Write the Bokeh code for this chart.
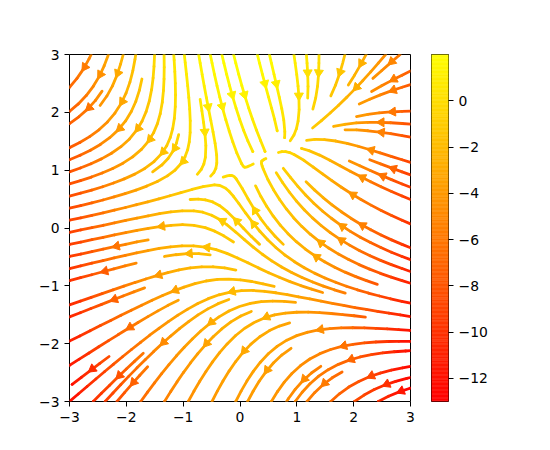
import math
import numpy as np
from bokeh.plotting import figure
from bokeh.models import Range1d, FixedTicker
from bokeh.layouts import row
from bokeh.embed import file_html
from bokeh.resources import INLINE

# ---------------- data ----------------
# vector field on a 100x100 grid over [-3, 3] x [-3, 3]
# U = u_const + u_x2 * X^2 + u_y * Y ;  V = v_const + v_x * X + v_y2 * Y^2
half_width = 3
grid_n = 100
u_coef = [-1.0, -1.0, 1.0]   # const, X^2, Y
v_coef = [1.0, 1.0, -1.0]    # const, X, Y^2
x_ticks = [-3, -2, -1, 0, 1, 2, 3]
y_ticks = [-3, -2, -1, 0, 1, 2, 3]
cbar_ticks = [-12, -10, -8, -6, -4, -2, 0]

Y, X = np.mgrid[-half_width:half_width:grid_n * 1j, -half_width:half_width:grid_n * 1j]
U = u_coef[0] + u_coef[1] * X ** 2 + u_coef[2] * Y
V = v_coef[0] + v_coef[1] * X + v_coef[2] * Y ** 2
C = U
gx = X[0]
gy = Y[:, 0]

# autumn colormap
palette = ["#ff%02x00" % i for i in range(256)]
lo, hi = float(C.min()), float(C.max())

# ---------------- streamline integration (classic matplotlib scheme) ----------------
class TerminateTrajectory(Exception):
    pass


class InvalidIndexError(Exception):
    pass


nx = len(gx)
ny = len(gy)
dx = gx[1] - gx[0]
dy = gy[1] - gy[0]
mnx = mny = 30
x_g2m = (mnx - 1) / nx
y_g2m = (mny - 1) / ny
x_m2g = 1.0 / x_g2m
y_m2g = 1.0 / y_g2m
x_d2g = 1.0 / dx
y_d2g = 1.0 / dy
mask = np.zeros((mny, mnx))
state = {"cur": None, "traj": []}
minlength = 0.1
maxlength = 4.0 / 2.0   # both directions


def within(xi, yi):
    return xi >= 0 and xi <= nx - 1 and yi >= 0 and yi <= ny - 1


def g2m(xi, yi):
    return int((xi * x_g2m) + 0.5), int((yi * y_g2m) + 0.5)


def mask_update(xm, ym):
    if state["cur"] != (xm, ym):
        if mask[ym, xm] == 0:
            state["traj"].append((ym, xm))
            mask[ym, xm] = 1
            state["cur"] = (xm, ym)
        else:
            raise InvalidIndexError


def start_traj(xg, yg):
    xm, ym = g2m(xg, yg)
    state["traj"] = []
    mask_update(xm, ym)


def reset_start(xg, yg):
    state["cur"] = g2m(xg, yg)


def update_traj(xg, yg):
    if not within(xg, yg):
        raise InvalidIndexError
    xm, ym = g2m(xg, yg)
    mask_update(xm, ym)


def undo_traj():
    for t in state["traj"]:
        mask[t] = 0


ug = U * x_d2g
vg = V * y_d2g
u_ax = ug / nx
v_ax = vg / ny
speed = np.sqrt(u_ax ** 2 + v_ax ** 2)


def interp(a, xi, yi):
    Ny, Nx = a.shape
    x = int(xi)
    y = int(yi)
    xn = x if x == Nx - 2 else x + 1
    yn = y if y == Ny - 2 else y + 1
    a00 = a[y, x]
    a01 = a[y, xn]
    a10 = a[yn, x]
    a11 = a[yn, xn]
    xt = xi - x
    yt = yi - y
    a0 = a00 * (1 - xt) + a01 * xt
    a1 = a10 * (1 - xt) + a11 * xt
    return a0 * (1 - yt) + a1 * yt


def interp_arr(a, xi, yi):
    x = xi.astype(int)
    y = yi.astype(int)
    xn = np.clip(x + 1, 0, nx - 1)
    yn = np.clip(y + 1, 0, ny - 1)
    xt = xi - x
    yt = yi - y
    a0 = a[y, x] * (1 - xt) + a[y, xn] * xt
    a1 = a[yn, x] * (1 - xt) + a[yn, xn] * xt
    return a0 * (1 - yt) + a1 * yt


def fwd(xi, yi):
    ds_dt = interp(speed, xi, yi)
    if ds_dt == 0:
        raise TerminateTrajectory
    dt_ds = 1.0 / ds_dt
    ui = interp(ug, xi, yi)
    vi = interp(vg, xi, yi)
    return ui * dt_ds, vi * dt_ds


def bwd(xi, yi):
    a, b = fwd(xi, yi)
    return -a, -b


def euler_step(xt, yt, f):
    xi = xt[-1]
    yi = yt[-1]
    cx, cy = f(xi, yi)
    if cx == 0:
        dsx = np.inf
    elif cx < 0:
        dsx = xi / -cx
    else:
        dsx = (nx - 1 - xi) / cx
    if cy == 0:
        dsy = np.inf
    elif cy < 0:
        dsy = yi / -cy
    else:
        dsy = (ny - 1 - yi) / cy
    ds = min(dsx, dsy)
    xt.append(xi + cx * ds)
    yt.append(yi + cy * ds)
    return ds, xt, yt


def rk12(x0, y0, f):
    maxerror = 0.003
    maxds = min(1.0 / mnx, 1.0 / mny, 0.1)
    ds = maxds
    stotal = 0
    xi, yi = x0, y0
    xf, yf = [], []
    while within(xi, yi):
        xf.append(xi)
        yf.append(yi)
        try:
            k1x, k1y = f(xi, yi)
            k2x, k2y = f(xi + ds * k1x, yi + ds * k1y)
        except IndexError:
            try:
                ds, xf, yf = euler_step(xf, yf, f)
                stotal += ds
            except IndexError:
                pass
            break
        except TerminateTrajectory:
            break
        dx1 = ds * k1x
        dy1 = ds * k1y
        dx2 = ds * 0.5 * (k1x + k2x)
        dy2 = ds * 0.5 * (k1y + k2y)
        error = np.hypot((dx2 - dx1) / nx, (dy2 - dy1) / ny)
        if error < maxerror:
            xi += dx2
            yi += dy2
            try:
                update_traj(xi, yi)
            except InvalidIndexError:
                break
            if stotal + ds > maxlength:
                break
            stotal += ds
        if error == 0:
            ds = maxds
        else:
            ds = min(maxds, 0.85 * ds * (maxerror / error) ** 0.5)
    return stotal, xf, yf


def integrate(x0, y0):
    stotal, x_traj, y_traj = 0.0, [], []
    try:
        start_traj(x0, y0)
    except InvalidIndexError:
        return None
    s, xt, yt = rk12(x0, y0, bwd)
    stotal += s
    x_traj += xt[::-1]
    y_traj += yt[::-1]
    reset_start(x0, y0)
    s, xt, yt = rk12(x0, y0, fwd)
    if len(x_traj) > 0:
        xt = xt[1:]
        yt = yt[1:]
    stotal += s
    x_traj += xt
    y_traj += yt
    if stotal > minlength:
        return np.array(x_traj, dtype=float), np.array(y_traj, dtype=float)
    undo_traj()
    return None


def gen_start(shape):
    nyy, nxx = shape
    xfirst, yfirst = 0, 1
    xlast, ylast = nxx - 1, nyy - 1
    x, y = 0, 0
    direction = "right"
    for _ in range(nxx * nyy):
        yield x, y
        if direction == "right":
            x += 1
            if x >= xlast:
                xlast -= 1
                direction = "up"
        elif direction == "up":
            y += 1
            if y >= ylast:
                ylast -= 1
                direction = "left"
        elif direction == "left":
            x -= 1
            if x <= xfirst:
                xfirst += 1
                direction = "down"
        elif direction == "down":
            y -= 1
            if y <= yfirst:
                yfirst += 1
                direction = "right"


trajectories = []
for xm, ym in gen_start(mask.shape):
    if mask[ym, xm] == 0:
        t = integrate(xm * x_m2g, ym * y_m2g)
        if t is not None:
            trajectories.append(t)

# ---------------- build glyph data ----------------
FW, FH = 341, 347
sx = FW / (gx[-1] - gx[0])
sy = FH / (gy[-1] - gy[0])

line_xs, line_ys, line_cols = [], [], []
ax_x, ax_y, ax_ang, ax_col = [], [], [], []
for tgx, tgy in trajectories:
    if len(tgx) < 2:
        continue
    tx = tgx / x_d2g + gx[0]
    ty = tgy / y_d2g + gy[0]
    cv = interp_arr(C, tgx, tgy)[:-1]
    idx = np.clip(((cv - lo) / (hi - lo) * 256).astype(int), 0, 255)
    start = 0
    nseg = len(idx)
    for i in range(1, nseg + 1):
        if i == nseg or idx[i] != idx[start]:
            line_xs.append(list(tx[start:i + 1]))
            line_ys.append(list(ty[start:i + 1]))
            line_cols.append(palette[idx[start]])
            start = i
    s = np.cumsum(np.hypot(np.diff(tx), np.diff(ty)))
    n = int(np.searchsorted(s, s[-1] / 2.0))
    tail = (tx[n], ty[n])
    head = (np.mean(tx[n:n + 2]), np.mean(ty[n:n + 2]))
    ddx = (head[0] - tail[0]) * sx
    ddy = (head[1] - tail[1]) * sy
    if ddx == 0 and ddy == 0:
        ddx = (tx[n] - tx[n - 1]) * sx
        ddy = (ty[n] - ty[n - 1]) * sy
    th = math.atan2(ddy, ddx)
    back = 8.0
    ax_x.append(head[0] - math.cos(th) * back / sx)
    ax_y.append(head[1] - math.sin(th) * back / sy)
    ax_ang.append(th - math.pi / 2)
    ax_col.append(palette[idx[min(n, nseg - 1)]])

# ---------------- main figure ----------------
FONT = "DejaVu Sans"
FSIZE = "13.9px"
LEFT, TOP, BOTTOM = 69, 54, 41

p = figure(frame_width=FW, frame_height=FH,
           x_range=Range1d(gx[0], gx[-1]), y_range=Range1d(gy[0], gy[-1]),
           min_border_left=LEFT, min_border_top=TOP, min_border_bottom=BOTTOM, min_border_right=21,
           toolbar_location=None, output_backend="svg")
p.multi_line(line_xs, line_ys, line_color=line_cols, line_width=2.8,
             line_cap="round", line_join="round")
p.scatter(ax_x, ax_y, marker="triangle", size=9, angle=ax_ang,
          fill_color=ax_col, line_color=ax_col, line_width=1)

for ax, ticks in ((p.xaxis, x_ticks), (p.yaxis, y_ticks)):
    ax.ticker = FixedTicker(ticks=ticks)
    ax.major_label_overrides = {t: str(t).replace("-", "\u2212") for t in ticks}
    ax.axis_line_color = None
    ax.major_tick_out = 5
    ax.major_tick_in = 0
    ax.minor_tick_line_color = None
    ax.major_tick_line_color = "black"
    ax.major_label_text_font = FONT
    ax.major_label_text_font_size = FSIZE
    ax.major_label_text_color = "black"
    ax.major_label_standoff = 5
p.xgrid.visible = False
p.ygrid.visible = False
p.outline_line_color = "black"
p.outline_line_width = 1
p.outline_line_alpha = 1

# ---------------- colorbar figure ----------------
pc = figure(frame_width=17, frame_height=FH,
            x_range=Range1d(0, 1), y_range=Range1d(lo, hi),
            x_axis_location=None, y_axis_location="right",
            min_border_left=0, min_border_top=TOP, min_border_bottom=BOTTOM, min_border_right=50,
            toolbar_location=None, output_backend="svg")
edges = np.linspace(lo, hi, 257)
pc.quad(left=0, right=1, bottom=edges[:-1], top=edges[1:], fill_color=palette,
        line_color=palette, line_width=0.5)
pc.yaxis.ticker = FixedTicker(ticks=cbar_ticks)
pc.yaxis.major_label_overrides = {t: str(t).replace("-", "\u2212") for t in cbar_ticks}
pc.yaxis.axis_line_color = None
pc.yaxis.major_tick_out = 5
pc.yaxis.major_tick_in = 0
pc.yaxis.minor_tick_line_color = None
pc.yaxis.major_label_text_font = FONT
pc.yaxis.major_label_text_font_size = FSIZE
pc.yaxis.major_label_text_color = "black"
pc.yaxis.major_label_standoff = 5
pc.xgrid.visible = False
pc.ygrid.visible = False
pc.outline_line_color = "black"
pc.outline_line_width = 1
pc.outline_line_alpha = 1

layout = row(p, pc)
open("out.html", "w").write(file_html(layout, INLINE))
